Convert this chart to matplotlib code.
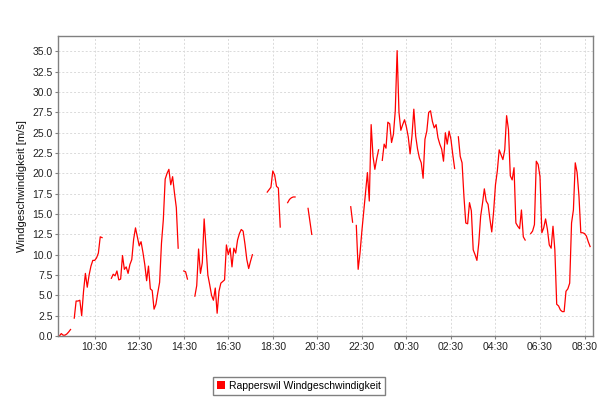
#!/usr/bin/env python3
"""Rapperswil wind speed, last 24 h (5 min samples, gaps = missing data)."""
import numpy as np
import pandas as pd
import matplotlib
matplotlib.use('Agg')
import matplotlib.pyplot as plt
import matplotlib.dates as mdates
from matplotlib.patches import Patch
from matplotlib.ticker import FormatStrFormatter

plt.rcParams['font.family'] = ['Liberation Sans', 'DejaVu Sans']

# measured segments: (start time, values in m/s every 5 min)
seg_0855 = [0.0, 0.3, 0.1, 0.1, 0.25, 0.5, 0.8]
seg_0935 = [2.2, 4.3, 4.3, 4.4, 2.5, 5.5, 7.7, 6.0, 7.5, 8.6, 9.3, 9.3, 9.6, 10.2, 12.2, 12.1]
seg_1115 = [7.1, 7.6, 7.4, 8.0, 6.9, 7.0, 9.9, 8.2, 8.5, 7.7, 8.8, 9.4, 11.9, 13.3, 12.2,
            11.1, 11.6, 10.3, 8.8, 6.8, 8.6, 5.8, 5.6, 3.3, 3.9, 5.3, 6.6, 11.4, 14.3, 19.3,
            20.0, 20.5, 18.6, 19.6, 17.6, 15.8, 10.8]
seg_1430 = [8.0, 7.9, 7.0]
seg_1500 = [4.9, 6.2, 10.7, 7.7, 9.0, 14.4, 11.0, 7.5, 6.3, 5.0, 4.4, 5.9, 2.8, 5.5, 6.5,
            6.7, 6.9, 11.2, 10.0, 10.8, 8.5, 10.8, 10.2, 11.8, 12.6, 13.1, 12.9, 11.3, 9.4,
            8.3, 9.2, 10.0]
seg_1815 = [17.7, 18.0, 18.3, 20.3, 19.8, 18.4, 18.2, 13.4]
seg_1910 = [16.4, 16.8, 17.0, 17.1, 17.1]
seg_2005 = [15.7, 14.1, 12.5]
seg_2200 = [15.9, 14.0]
seg_2215 = [13.6, 8.2, 10.2, 12.9, 15.3, 17.6, 20.1, 16.6, 26.0, 22.1, 20.5, 21.8, 22.9]
seg_2325 = [21.6, 23.6, 23.1, 26.3, 26.1, 23.8, 24.8, 27.7, 35.1, 27.5, 25.3, 26.0, 26.6,
            25.7, 24.5, 22.4, 24.6, 27.9, 24.6, 23.0, 21.9, 21.3, 19.4, 24.2, 25.2, 27.5,
            27.7, 26.4, 25.6, 26.0, 24.4, 23.6, 23.0, 21.5, 25.0, 23.6, 25.2, 24.2, 22.3, 20.6]
seg_0250 = [24.5, 22.1, 21.3, 17.2, 13.9, 13.8, 16.4, 15.4, 10.6, 10.0, 9.3, 11.4, 14.7,
            16.3, 18.1, 16.6, 16.2, 14.4, 12.8, 15.3, 18.6, 20.3, 22.9, 22.3, 21.7, 22.9,
            27.1, 25.4, 19.7, 19.2, 20.7, 13.9, 13.5, 13.2, 15.5, 12.2, 11.8]
seg_0605 = [12.6, 12.9, 13.7, 21.5, 21.1, 19.6, 12.7, 13.3, 14.4, 13.1, 11.2, 10.8, 13.5,
            10.6, 3.9, 3.7, 3.2, 3.0, 3.0, 5.5, 5.8, 6.5, 13.9, 15.5, 21.3, 20.1, 17.2, 12.7,
            12.7, 12.6, 12.3, 11.6, 11.0]

segments = [
    ('2013-07-10 08:55', seg_0855), ('2013-07-10 09:35', seg_0935),
    ('2013-07-10 11:15', seg_1115), ('2013-07-10 14:30', seg_1430),
    ('2013-07-10 15:00', seg_1500), ('2013-07-10 18:15', seg_1815),
    ('2013-07-10 19:10', seg_1910), ('2013-07-10 20:05', seg_2005),
    ('2013-07-10 22:00', seg_2200), ('2013-07-10 22:15', seg_2215),
    ('2013-07-10 23:25', seg_2325), ('2013-07-11 02:50', seg_0250),
    ('2013-07-11 06:05', seg_0605),
]

idx = pd.date_range('2013-07-10 08:50', '2013-07-11 08:55', freq='5min')
wind = pd.Series(np.nan, index=idx)
for start, vals in segments:
    wind.loc[pd.date_range(start, periods=len(vals), freq='5min')] = vals

fig = plt.figure(figsize=(6, 4), dpi=100)
ax = fig.add_axes([58.3 / 600, 64 / 400, (592.7 - 58.3) / 600, 300 / 400])

ax.plot(wind.index, wind.values, color='#ff0000', linewidth=0.9)

ax.set_xlim(pd.Timestamp('2013-07-10 08:52'), pd.Timestamp('2013-07-11 08:52'))
ax.set_ylim(0, 36.9)
ax.set_yticks(np.arange(0, 35.1, 2.5))
ax.yaxis.set_major_formatter(FormatStrFormatter('%.1f'))
ax.set_xticks(pd.date_range('2013-07-10 10:30', '2013-07-11 08:30', freq='2h'))
ax.xaxis.set_major_formatter(mdates.DateFormatter('%H:%M'))

ax.grid(True, color='#dadada', linewidth=0.7, linestyle=(0, (2, 2)))
ax.set_axisbelow(True)
for sp in ax.spines.values():
    sp.set_color('#808080')
    sp.set_linewidth(1.0)
ax.tick_params(length=2, width=0.8, color='#808080', labelsize=7.5,
               labelcolor='#222222', pad=2)
ax.set_ylabel('Windgeschwindigkeit [m/s]', fontsize=8, color='#111111', labelpad=4)

fig.legend(handles=[Patch(facecolor='#ff0000', edgecolor='none')],
           labels=['Rapperswil Windgeschwindigkeit'],
           loc='center', bbox_to_anchor=(0.498, 0.035), fontsize=7.5,
           frameon=True, fancybox=False, edgecolor='#808080', framealpha=1,
           handlelength=0.8, handleheight=0.8, handletextpad=0.4,
           borderpad=0.35, borderaxespad=0)

plt.savefig('out.png', dpi=100)
plt.close()
